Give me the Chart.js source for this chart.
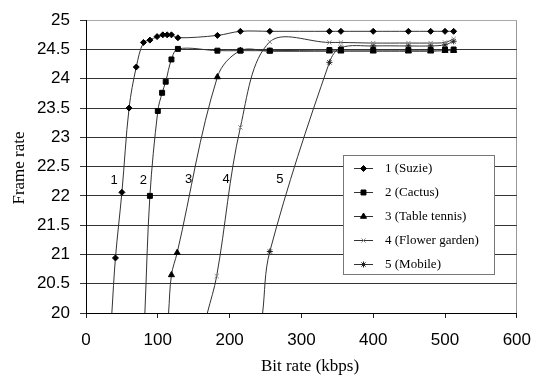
<!DOCTYPE html>
<html>
<head>
<meta charset="utf-8">
<script src="https://cdn.jsdelivr.net/npm/chart.js@4/dist/chart.umd.min.js"></script>
<style>
  html, body { margin: 0; padding: 0; background: #fff; }
</style>
</head>
<body>
<canvas id="rate-chart" width="543" height="376"></canvas>
<script>
/* global Chart */
// series data (x = kbps, y = frame rate)
// first point of each curve is where it leaves the x axis (no marker there)
const seriesNames = ["1 (Suzie)", "2 (Cactus)", "3 (Table tennis)", "4 (Flower garden)", "5 (Mobile)"];

const suzieX = [36, 41, 50, 60, 70, 80, 89, 99, 107, 113, 119, 128, 183, 215, 256, 339, 355, 400, 449, 480, 500, 512];
const suzieY = [20, 20.94, 22.06, 23.5, 24.2, 24.62, 24.66, 24.72, 24.75, 24.75, 24.75, 24.7, 24.74, 24.81, 24.81, 24.81, 24.81, 24.81, 24.81, 24.81, 24.81, 24.81];

const cactusX = [82, 89, 100, 106, 111, 119, 128, 183, 215, 256, 339, 355, 400, 449, 480, 500, 512];
const cactusY = [20, 22.0, 23.45, 23.76, 23.95, 24.33, 24.51, 24.48, 24.48, 24.48, 24.49, 24.49, 24.49, 24.49, 24.49, 24.5, 24.5];

const tennisX = [115, 119, 127, 183, 215, 256, 339, 355, 400, 449, 480, 500, 512];
const tennisY = [20, 20.65, 21.03, 24.03, 24.48, 24.47, 24.47, 24.47, 24.47, 24.47, 24.47, 24.48, 24.48];

const flowerX = [169, 182, 215, 256, 339, 355, 400, 449, 480, 500, 512];
const flowerY = [20, 20.63, 23.17, 24.63, 24.62, 24.62, 24.61, 24.61, 24.61, 24.62, 24.68];

const mobileX = [246, 256, 339, 355, 400, 449, 480, 500, 512];
const mobileY = [20, 21.05, 24.28, 24.53, 24.56, 24.56, 24.56, 24.58, 24.64];

const curveLabels = ["1", "2", "3", "4", "5"];
const curveLabelX = [39, 80, 143, 195, 270];
const curveLabelY = [22.27, 22.27, 22.28, 22.28, 22.28];

const xTitle = "Bit rate (kbps)";
const yTitle = "Frame rate";

function toPoints(xs, ys) {
  return xs.map((x, i) => ({ x: x, y: ys[i] }));
}

const styles = [
  { pointStyle: "rectRot", radius: 3, color: "#000" },
  { pointStyle: "rect", radius: 3.5, color: "#000" },
  { pointStyle: "triangle", radius: 3.5, color: "#000" },
  { pointStyle: "crossRot", radius: 3, color: "#888" },
  { pointStyle: "star", radius: 3, color: "#222" }
];

const seriesData = [
  toPoints(suzieX, suzieY),
  toPoints(cactusX, cactusY),
  toPoints(tennisX, tennisY),
  toPoints(flowerX, flowerY),
  toPoints(mobileX, mobileY)
];

const datasets = seriesData.map((pts, i) => ({
  label: seriesNames[i],
  data: pts,
  borderColor: "#333",
  borderWidth: 1,
  tension: 0.35,
  fill: false,
  pointStyle: styles[i].pointStyle,
  pointRadius: (c) => (c.raw && c.raw.y <= 20 ? 0 : styles[i].radius),
  pointBackgroundColor: styles[i].color,
  pointBorderColor: styles[i].color,
  pointBorderWidth: 1
}));

const extras = {
  id: "extras",
  afterDraw(chart) {
    const ctx = chart.ctx;
    const xs = chart.scales.x;
    const ys = chart.scales.y;
    ctx.save();

    // curve numbers
    ctx.fillStyle = "#000";
    ctx.font = "13px 'Liberation Sans', Arial";
    ctx.textAlign = "center";
    ctx.textBaseline = "middle";
    curveLabels.forEach((t, i) => {
      ctx.fillText(t, xs.getPixelForValue(curveLabelX[i]), ys.getPixelForValue(curveLabelY[i]));
    });

    // legend box
    ctx.fillStyle = "#fff";
    ctx.fillRect(343, 155, 151, 119);
    ctx.strokeStyle = "#777";
    ctx.lineWidth = 1;
    ctx.strokeRect(343.5, 155.5, 151, 119);
    ctx.font = "13px 'Liberation Serif', 'Times New Roman'";
    ctx.textAlign = "left";
    seriesNames.forEach((name, i) => {
      const y = 168 + i * 24;
      ctx.strokeStyle = "#333";
      ctx.beginPath();
      ctx.moveTo(354, y + 0.5);
      ctx.lineTo(373, y + 0.5);
      ctx.stroke();
      ctx.fillStyle = styles[i].color;
      ctx.strokeStyle = styles[i].color;
      Chart.helpers.drawPoint(ctx, {
        pointStyle: styles[i].pointStyle,
        radius: styles[i].radius,
        rotation: 0,
        borderWidth: 1
      }, 363.5, y + 0.5);
      ctx.fillStyle = "#000";
      ctx.fillText(name, 385, y + 1);
    });

    // axis titles
    ctx.font = "17px 'Liberation Serif', 'Times New Roman'";
    ctx.textAlign = "center";
    ctx.fillText(xTitle, 310, 367);
    ctx.translate(20, 168);
    ctx.rotate(-Math.PI / 2);
    ctx.fillText(yTitle, 0, 0);
    ctx.restore();
  }
};

new Chart(document.getElementById("rate-chart"), {
  type: "line",
  data: { datasets: datasets },
  plugins: [extras],
  options: {
    responsive: false,
    animation: false,
    layout: { padding: { top: 13, right: 25, left: 0, bottom: 0 } },
    plugins: {
      legend: { display: false },
      tooltip: { enabled: false }
    },
    scales: {
      x: {
        type: "linear",
        min: 0,
        max: 600,
        afterFit: (s) => { s.height = 63; },
        ticks: {
          stepSize: 100,
          maxRotation: 0,
          padding: 12,
          color: "#000",
          font: { family: "'Liberation Sans', Arial", size: 17 }
        },
        grid: {
          color: (c) => (c.tick && c.tick.value === 600 ? "#999" : "rgba(0,0,0,0)"),
          tickColor: "#222",
          tickLength: 5
        },
        border: { color: "#000" }
      },
      y: {
        min: 20,
        max: 25,
        afterFit: (s) => { s.width = 86; },
        ticks: {
          stepSize: 0.5,
          padding: 10,
          color: "#000",
          font: { family: "'Liberation Sans', Arial", size: 17 },
          callback: (v) => String(Number(Number(v).toFixed(1)))
        },
        grid: {
          color: (c) => (c.tick && c.tick.value === 25 ? "#aaa" : "#333"),
          tickColor: "#333",
          tickLength: 6
        },
        border: { color: "#000" }
      }
    }
  }
});
</script>
</body>
</html>
